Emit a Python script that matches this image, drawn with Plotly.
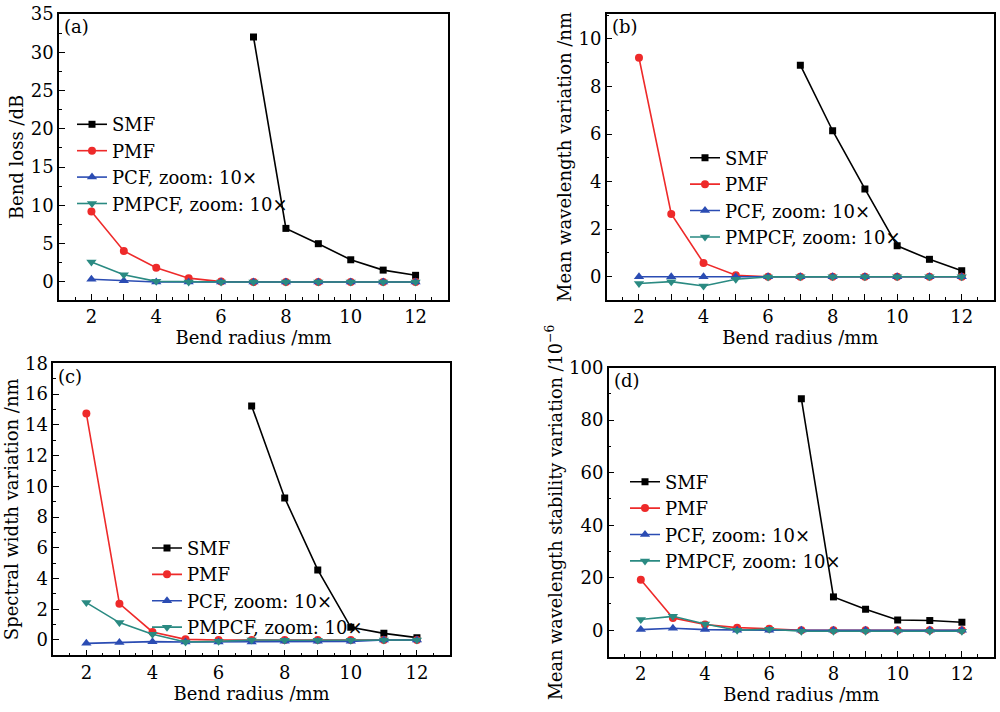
import plotly.graph_objects as go

# ---------------- data ----------------
radius = [2, 3, 4, 5, 6, 7, 8, 9, 10, 11, 12]
radius_smf = [7, 8, 9, 10, 11, 12]

series_names = ["SMF", "PMF", "PCF, zoom: 10×", "PMPCF, zoom: 10×"]

# (a) Bend loss /dB
a_smf = [32.0, 7.0, 5.0, 2.9, 1.55, 0.87]
a_pmf = [9.2, 4.05, 1.85, 0.5, 0.05, 0, 0, 0, 0, 0, 0]
a_pcf = [0.35, 0.17, 0, 0, 0, 0, 0, 0, 0, 0, 0]
a_pmpcf = [2.6, 0.95, 0.08, 0, 0, 0, 0, 0, 0, 0, 0]

# (b) Mean wavelength variation /nm
b_smf = [8.9, 6.14, 3.69, 1.3, 0.73, 0.25]
b_pmf = [9.21, 2.64, 0.58, 0.06, 0, 0, 0, 0, 0, 0, 0]
b_pcf = [0, 0, 0, 0, 0, 0, 0, 0, 0, 0, 0]
b_pmpcf = [-0.29, -0.21, -0.39, -0.11, -0.01, 0, 0, 0, 0, 0, 0]

# (c) Spectral width variation /nm
c_smf = [15.23, 9.24, 4.56, 0.82, 0.43, 0.15]
c_pmf = [14.73, 2.36, 0.52, 0.04, 0, 0, 0, 0, 0, 0, 0]
c_pcf = [-0.22, -0.17, -0.11, -0.13, -0.13, -0.13, -0.09, -0.09, -0.09, 0, 0]
c_pmpcf = [2.43, 1.13, 0.37, -0.13, -0.09, 0, -0.02, -0.02, -0.02, 0, 0]

# (d) Mean wavelength stability variation /1e-6
d_smf = [88.2, 12.7, 8.0, 3.9, 3.7, 3.05]
d_pmf = [19.2, 4.7, 2.2, 1.0, 0.6, 0, 0, 0, 0, 0, 0]
d_pcf = [0.25, 0.76, 0.25, 0, 0, 0, 0, 0, 0, 0, 0]
d_pmpcf = [4.1, 5.3, 2.4, 0, 0.4, -0.4, -0.4, -0.4, -0.4, -0.4, -0.4]

panel_labels = ["(a)", "(b)", "(c)", "(d)"]
y_titles = ["Bend loss /dB",
            "Mean wavelength variation /nm",
            "Spectral width variation /nm",
            "Mean wavelength stability variation /10<sup>−6</sup>"]
x_title = "Bend radius /mm"

# ---------------- style ----------------
FONT = "DejaVu Serif"
FS = 18
colors = ["#000000", "#ee2a2a", "#2b4cb3", "#2a8a82"]
symbols = ["square", "circle", "triangle-up", "triangle-down"]
msizes = [7, 8, 9, 9]

panels = [
    dict(data=[a_smf, a_pmf, a_pcf, a_pmpcf], xd=[0.059, 0.448], yd=[0.5787, 0.9803],
         yr=[-2.35, 35], ydt=5, ymin=2.5, leg=dict(x=0.072, y=0.851), tfs=18),
    dict(data=[b_smf, b_pmf, b_pcf, b_pmpcf], xd=[0.6067, 0.994], yd=[0.5787, 0.9803],
         yr=[-0.98, 11.05], ydt=2, ymin=1, leg=dict(x=0.685, y=0.804), tfs=18),
    dict(data=[c_smf, c_pmf, c_pcf, c_pmpcf], xd=[0.0533, 0.450], yd=[0.0796, 0.4897],
         yr=[-1.0, 18], ydt=2, ymin=1, leg=dict(x=0.147, y=0.256), tfs=18),
    dict(data=[d_smf, d_pmf, d_pcf, d_pmpcf], xd=[0.6087, 0.994], yd=[0.0772, 0.4836],
         yr=[-10.2, 100], ydt=20, ymin=10, leg=dict(x=0.625, y=0.349), tfs=17.7),
]

fig = go.Figure()
layout = dict(width=1000, height=712, margin=dict(l=0, r=0, t=0, b=0, autoexpand=False),
              paper_bgcolor="white", plot_bgcolor="white",
              font=dict(family=FONT, size=FS, color="black"),
              annotations=[])

for i, p in enumerate(panels):
    n = "" if i == 0 else str(i + 1)
    xa, ya = "x" + n, "y" + n
    legname = "legend" + n
    for k in range(4):
        xs = radius_smf if k == 0 else radius
        fig.add_trace(go.Scatter(
            x=xs, y=p["data"][k], mode="lines+markers", name=series_names[k],
            line=dict(color=colors[k], width=1.6),
            marker=dict(symbol=symbols[k], size=msizes[k], color=colors[k]),
            xaxis=xa, yaxis=ya, legend=legname, showlegend=True))
    axis_common = dict(showline=True, linecolor="black", linewidth=1.5, mirror=True,
                       ticks="inside", tickcolor="black", tickwidth=1.2,
                       showgrid=False, zeroline=False, automargin=False,
                       tickfont=dict(family=FONT, size=FS, color="black"))
    layout["xaxis" + n] = dict(axis_common, domain=p["xd"], range=[1, 13],
                               anchor=ya, tick0=0, dtick=1, ticklabelstep=2, ticklen=6,
                               minor=dict(dtick=0.5, tick0=0.5, ticks="inside", ticklen=3,
                                          tickcolor="black", showgrid=False),
                               title=dict(text=x_title, font=dict(family=FONT, size=FS),
                                          standoff=3))
    layout["yaxis" + n] = dict(axis_common, domain=p["yd"], range=p["yr"], anchor=xa,
                               tick0=0, dtick=p["ydt"], ticklen=6,
                               minor=dict(dtick=p["ymin"], tick0=0, ticks="inside", ticklen=3,
                                          tickcolor="black", showgrid=False),
                               title=dict(text=y_titles[i], font=dict(family=FONT, size=p["tfs"]),
                                          standoff=2))
    layout[legname] = dict(x=p["leg"]["x"], y=p["leg"]["y"], xanchor="left", yanchor="top",
                           xref="paper", yref="paper", bgcolor="rgba(0,0,0,0)",
                           font=dict(family=FONT, size=FS), tracegroupgap=0,
                           itemwidth=30)
    layout["annotations"].append(dict(text=panel_labels[i], xref=xa + " domain",
                                      yref=ya + " domain", x=0.008, y=0.955,
                                      xanchor="left", yanchor="middle", showarrow=False,
                                      font=dict(family=FONT, size=FS)))

fig.update_layout(**layout)
fig.write_html("out.html", config={"displayModeBar": False},
               post_script="document.body.style.margin='0';")
